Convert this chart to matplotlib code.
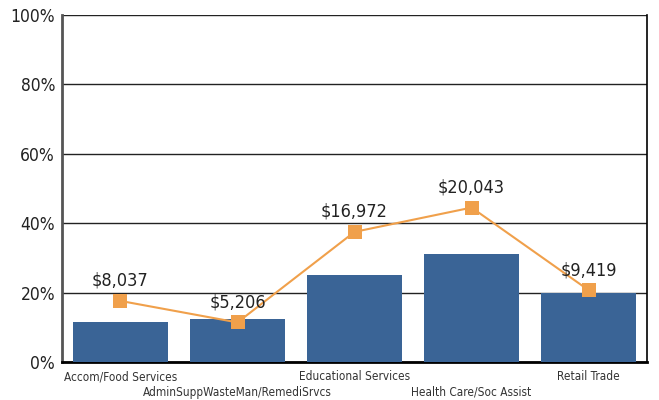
import numpy as np
import matplotlib.pyplot as plt
from matplotlib import font_manager as fm
from matplotlib.ticker import FuncFormatter

# the reference uses a condensed sans; use one if the system has it
def pick_font():
    for fam in ['Liberation Sans Narrow', 'DejaVu Sans', 'Open Sans', 'Roboto']:
        try:
            path = fm.findfont(fm.FontProperties(family=fam, stretch='condensed'),
                               fallback_to_default=False)
        except Exception:
            continue
        name = path.lower()
        if 'narrow' in name or 'condensed' in name:
            return path
    return None

font_path = pick_font()
if font_path:
    fm.fontManager.addfont(font_path)
    plt.rcParams['font.family'] = [fm.FontProperties(fname=font_path).get_name(), 'DejaVu Sans']
    plt.rcParams['font.stretch'] = 'condensed'
    k = 1.0
else:
    plt.rcParams['font.family'] = ['Liberation Sans', 'DejaVu Sans']
    k = 0.95

categories = ['Accom/Food Services', 'AdminSuppWasteMan/RemediSrvcs',
              'Educational Services', 'Health Care/Soc Assist', 'Retail Trade']
bar_share = [11.5, 12.4, 25.1, 31.1, 19.8]
line_share = [17.6, 11.4, 37.5, 44.5, 20.7]
wage_labels = ['$8,037', '$5,206', '$16,972', '$20,043', '$9,419']

BAR = '#3a6496'
LINE = '#f0a04b'

fig = plt.figure(figsize=(6.59, 4.0), dpi=100, facecolor='white')
ax = fig.add_axes([0.094, 0.095, 0.888, 0.8675])

x = np.arange(len(categories))
ax.bar(x, bar_share, width=0.81, color=BAR, zorder=3)
ax.plot(x, line_share, color=LINE, lw=1.5, marker='s', markersize=10,
        markeredgewidth=0, zorder=4)
for xi, yi, lab in zip(x, line_share, wage_labels):
    ax.annotate(lab, (xi, yi), xytext=(0, 8), textcoords='offset points',
                ha='center', va='bottom', fontsize=13 * k, color='#222222', zorder=5)

ax.set_xlim(-0.5, len(categories) - 0.5)
ax.set_ylim(0, 100)
ax.set_yticks(np.arange(0, 101, 20))
ax.yaxis.set_major_formatter(FuncFormatter(lambda v, p: f'{int(v)}%'))
ax.grid(axis='y', color='#222222', lw=1.0, zorder=1)
ax.set_axisbelow(True)

# staggered category labels: odd ones sit one line lower
ax.set_xticks(x)
ax.set_xticklabels([])
ax.tick_params(axis='x', length=0)
for i, (xi, c) in enumerate(zip(x, categories)):
    ax.annotate(c, (xi, 0), xycoords=ax.get_xaxis_transform(),
                xytext=(0, -6 - 11 * (i % 2)), textcoords='offset points',
                ha='center', va='top', fontsize=8.5 * k, color='#333333')
ax.tick_params(axis='y', length=0, pad=5, labelsize=12.5 * k, labelcolor='#222222')

ax.spines['top'].set_visible(False)
ax.spines['left'].set_color('#555555')
ax.spines['left'].set_linewidth(2)
ax.spines['bottom'].set_color('black')
ax.spines['bottom'].set_linewidth(2)
ax.spines['right'].set_color('black')
ax.spines['right'].set_linewidth(1.2)

fig.savefig('out.png', dpi=100, facecolor='white')
